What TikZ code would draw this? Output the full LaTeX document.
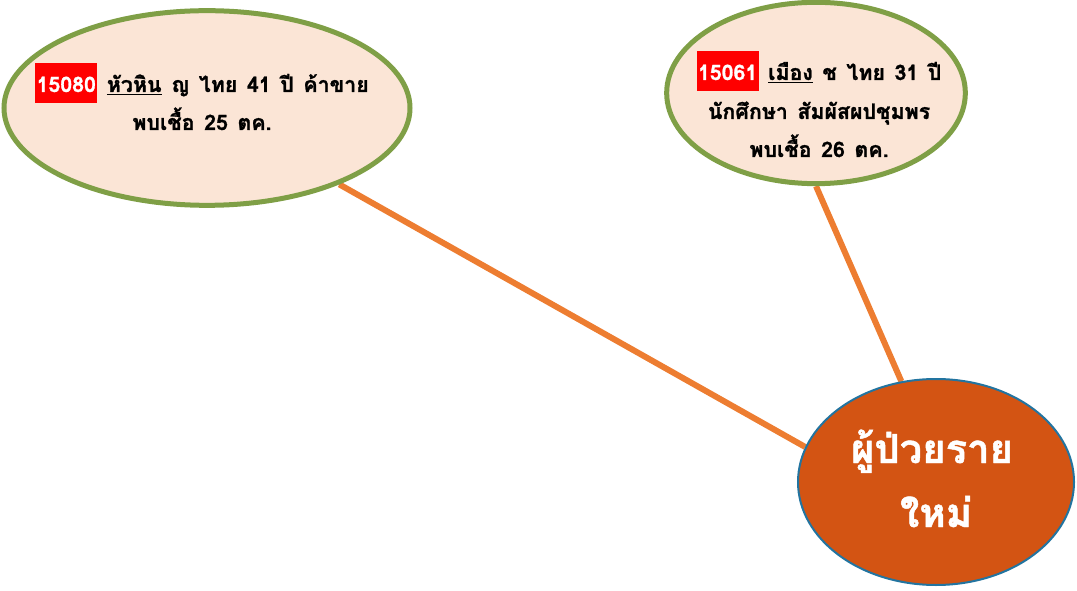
\documentclass[tikz,border=0pt]{standalone}
\usepackage{fontspec}
\newfontfamily\thaifont[Script=Thai,BoldFeatures={FakeBold=1.2}]{Loma}
\usetikzlibrary{shapes.geometric,backgrounds}
\definecolor{ovalgreen}{HTML}{7F9F46}
\definecolor{peach}{HTML}{FBE5D6}
\definecolor{linkorange}{HTML}{ED7D31}
\definecolor{hubfill}{HTML}{D35413}
\definecolor{hubedge}{HTML}{2274A0}
\definecolor{idred}{HTML}{FF0000}
\newcommand{\caseid}[1]{{\setlength{\fboxsep}{0pt}\colorbox{idred}{\hspace{1pt}\rule[-8pt]{0pt}{30pt}\textcolor{white}{#1}\hspace{1pt}}}}
\protected\def\casetextfont{\thaifont\bfseries\fontsize{16pt}{18pt}\selectfont\setlength{\spaceskip}{0.45em plus 0.1em}}
\begin{document}
\begin{tikzpicture}[x=0.75pt,y=-0.75pt,
  caseoval/.style={ellipse, draw=ovalgreen, line width=3.75pt, fill=peach, inner sep=0pt},
  hub/.style={ellipse, draw=hubedge, line width=1.5pt, fill=hubfill, inner sep=0pt},
  txt/.style={anchor=base, inner sep=0pt, font=\casetextfont},
  hubtxt/.style={anchor=base, inner sep=0pt, text=white, font=\thaifont\bfseries\fontsize{30pt}{36pt}\selectfont},
  link/.style={draw=linkorange, line width=4.5pt}]
\useasboundingbox (0,0) rectangle (1077,591);
\node[caseoval, minimum width=304.5pt, minimum height=146pt] (caseA) at (207,108) {};
\node[caseoval, minimum width=224pt, minimum height=136pt] (caseB) at (816,93) {};
\node[hub, minimum width=207pt, minimum height=154.5pt] (hub) at (936,482) {};
\begin{scope}[on background layer]
\draw[link] (caseA.-30) -- (hub.165);
\draw[link] (caseB.-90) -- (hub.109);
\end{scope}
\node[txt] (a1) at (202,92) {\caseid{15080} \underline{หัวหิน} ญ ไทย 41 ปี ค้าขาย};
\node[txt] (a2) at (202,130) {พบเชื้อ 25 ตค.};
\node[txt] (b1) at (819,80) {\caseid{15061} \underline{เมือง} ช ไทย 31 ปี};
\node[txt] (b2) at (819,119) {นักศึกษา สัมผัสผปชุมพร};
\node[txt] (b3) at (819,157) {พบเชื้อ 26 ตค.};
\node[hubtxt] (h1) at (932,463) {ผู้ป่วยราย};
\node[hubtxt] (h2) at (936,527) {ใหม่};
\end{tikzpicture}
\end{document}
